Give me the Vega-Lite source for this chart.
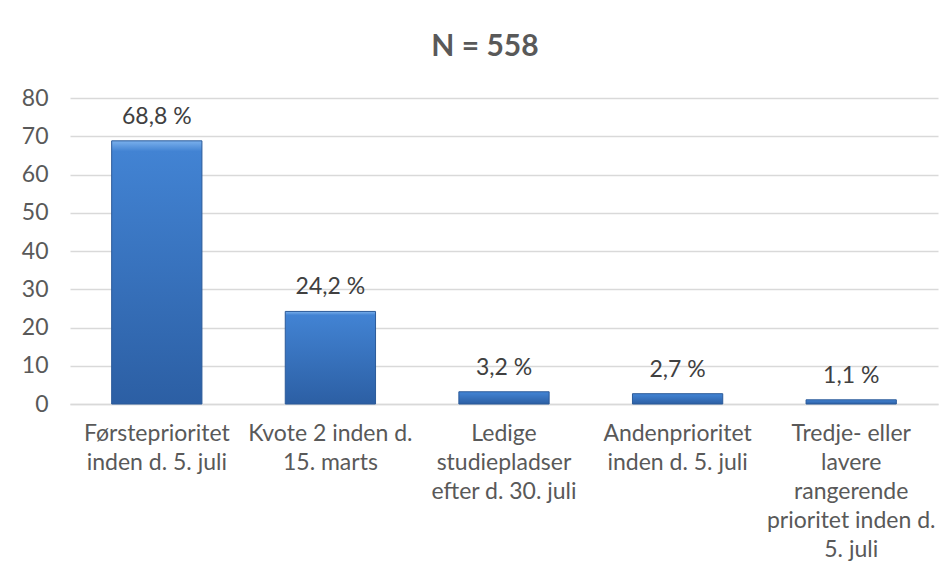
{
  "$schema": "https://vega.github.io/schema/vega-lite/v6.json",
  "width": 868,
  "height": 306,
  "autosize": {"type": "none"},
  "padding": {"left": 70, "top": 98, "right": 14, "bottom": 174},
  "background": "white",
  "config": {"view": {"stroke": null}, "font": "Lato"},
  "title": {
    "text": "N = 558",
    "font": "Lato",
    "fontSize": 30,
    "fontWeight": "bold",
    "color": "#595959",
    "anchor": "middle",
    "dx": -19,
    "offset": 25
  },
  "data": {
    "values": [
      {"kategori": "Førsteprioritet inden d. 5. juli", "andel": 68.8, "etiket": "68,8 %"},
      {"kategori": "Kvote 2 inden d. 15. marts", "andel": 24.2, "etiket": "24,2 %"},
      {"kategori": "Ledige studiepladser efter d. 30. juli", "andel": 3.2, "etiket": "3,2 %"},
      {"kategori": "Andenprioritet inden d. 5. juli", "andel": 2.7, "etiket": "2,7 %"},
      {"kategori": "Tredje- eller lavere rangerende prioritet inden d. 5. juli", "andel": 1.1, "etiket": "1,1 %"}
    ]
  },
  "encoding": {
    "x": {
      "field": "kategori",
      "type": "nominal",
      "sort": null,
      "title": null,
      "scale": {"paddingInner": 0.48, "paddingOuter": 0.24},
      "axis": {
        "labelAngle": 0,
        "labelFont": "Lato",
        "labelFontSize": 23,
        "labelColor": "#595959",
        "labelLineHeight": 29,
        "labelPadding": 18,
        "labelLimit": 0,
        "ticks": false,
        "domainColor": "#d9d9d9",
        "domainWidth": 1.5,
        "labelExpr": "datum.value == 'Førsteprioritet inden d. 5. juli' ? ['Førsteprioritet', 'inden d. 5. juli'] : datum.value == 'Kvote 2 inden d. 15. marts' ? ['Kvote 2 inden d.', '15. marts'] : datum.value == 'Ledige studiepladser efter d. 30. juli' ? ['Ledige', 'studiepladser', 'efter d. 30. juli'] : datum.value == 'Andenprioritet inden d. 5. juli' ? ['Andenprioritet', 'inden d. 5. juli'] : ['Tredje- eller', 'lavere', 'rangerende', 'prioritet inden d.', '5. juli']"
      }
    },
    "y": {
      "field": "andel",
      "type": "quantitative",
      "title": null,
      "scale": {"domain": [0, 80], "nice": false},
      "axis": {
        "values": [0, 10, 20, 30, 40, 50, 60, 70, 80],
        "labelFont": "Lato",
        "labelFontSize": 23,
        "labelColor": "#595959",
        "labelPadding": 22,
        "ticks": false,
        "domain": false,
        "gridColor": "#d9d9d9",
        "gridWidth": 1.5
      }
    }
  },
  "layer": [
    {
      "mark": {
        "type": "bar",
        "stroke": "#2b5a99",
        "strokeWidth": 1,
        "color": {
          "gradient": "linear",
          "x1": 0, "y1": 0, "x2": 0, "y2": 1,
          "stops": [
            {"offset": 0, "color": "#7ab0ec"},
            {"offset": 0.04, "color": "#4283d3"},
            {"offset": 1, "color": "#2c5fa4"}
          ]
        }
      }
    },
    {
      "mark": {
        "type": "text",
        "font": "Lato",
        "fontSize": 23,
        "color": "#404040",
        "baseline": "alphabetic",
        "dy": -17
      },
      "encoding": {"text": {"field": "etiket"}}
    }
  ]
}
